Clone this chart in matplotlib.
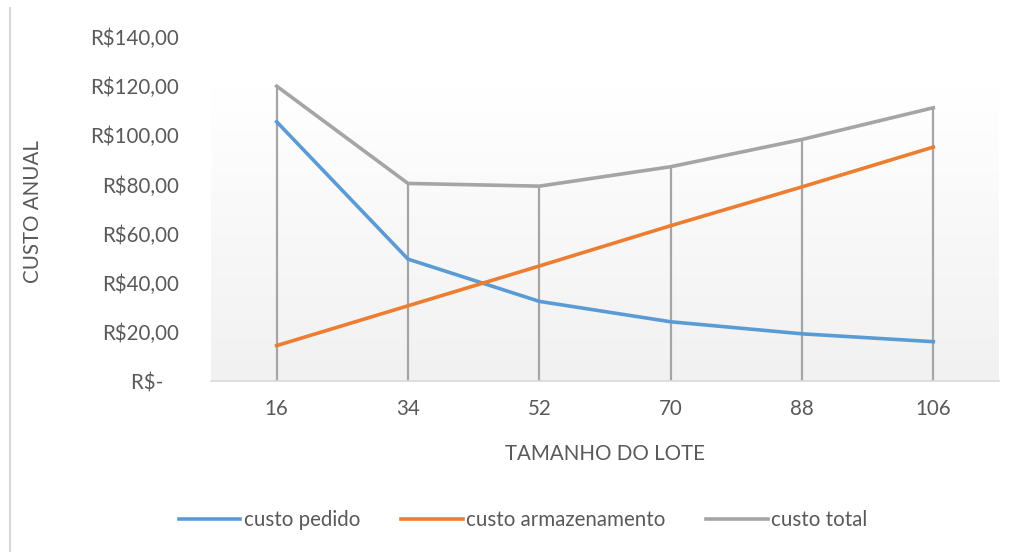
import matplotlib
matplotlib.use('Agg')
import matplotlib.pyplot as plt
import numpy as np
from matplotlib.lines import Line2D

# values
lotes = ['16', '34', '52', '70', '88', '106']
custo_pedido = [105.5, 49.6, 32.4, 24.1, 19.2, 16.0]
custo_armazenamento = [14.4, 30.6, 46.8, 63.2, 79.0, 95.2]
custo_total = [120.0, 80.4, 79.3, 87.2, 98.3, 111.2]
y_ticks = [0, 20, 40, 60, 80, 100, 120, 140]
y_labels = ['R$-   ', 'R$20,00', 'R$40,00', 'R$60,00', 'R$80,00',
            'R$100,00', 'R$120,00', 'R$140,00']

txt = '#595959'
fs = 14.8
plt.rcParams['font.family'] = ['Lato', 'DejaVu Sans']

fig = plt.figure(figsize=(10.13, 5.52), dpi=100)
ax = fig.add_axes([211/1013, 1 - 381/552, (999-211)/1013, (381-37)/552])

x = np.arange(len(lotes))
ax.set_xlim(-0.5, len(lotes) - 0.5)
ax.set_ylim(0, 140)

# background gradient (white at top, light gray at bottom)
grad = np.linspace(1.0, 0.0, 256).reshape(-1, 1)
grad = np.clip(grad / 0.85, 0, 1)
top_c = np.array([1.0, 1.0, 1.0])
bot_c = np.array([0xf1, 0xf1, 0xf1]) / 255
img = bot_c + (top_c - bot_c) * grad[..., None]
ax.imshow(img, extent=[-0.5, len(lotes) - 0.5, 0, 140], aspect='auto', zorder=0)

# drop lines
hi = np.max([custo_pedido, custo_armazenamento, custo_total], axis=0)
ax.vlines(x, 0, hi, color='#a5a5a5', lw=1.6, zorder=1)

ax.plot(x, custo_pedido, color='#5b9bd5', lw=2.6, label='custo pedido', zorder=3)
ax.plot(x, custo_armazenamento, color='#ed7d31', lw=2.6,
        label='custo armazenamento', zorder=3)
ax.plot(x, custo_total, color='#a5a5a5', lw=2.6, label='custo total', zorder=3)

for s in ['top', 'right', 'left']:
    ax.spines[s].set_visible(False)
ax.spines['bottom'].set_color('#d9d9d9')
ax.spines['bottom'].set_linewidth(1.2)

ax.set_xticks(x)
ax.set_xticklabels(lotes, fontsize=fs, color=txt)
ax.set_yticks(y_ticks)
ax.set_yticklabels(y_labels, fontsize=fs, color=txt)
ax.tick_params(length=0)
ax.tick_params(axis='x', pad=13)
ax.tick_params(axis='y', pad=23)

ax.set_xlabel('TAMANHO DO LOTE', fontsize=fs, color=txt, labelpad=18)
fig.text(33/1013, 1 - 212/552, 'CUSTO ANUAL', rotation=90, fontsize=fs,
         color=txt, ha='center', va='center')

handles = [Line2D([], [], color='#5b9bd5', lw=2.6),
           Line2D([], [], color='#ed7d31', lw=2.6),
           Line2D([], [], color='#a5a5a5', lw=2.6)]
fig.legend(handles, ['custo pedido', 'custo armazenamento', 'custo total'],
           loc='center', bbox_to_anchor=(523/1013, 1 - 520/552), ncol=3,
           frameon=False, fontsize=fs, labelcolor=txt, handlelength=3.0,
           handletextpad=0.15, columnspacing=2.0)

# left border of the chart area
fig.add_artist(Line2D([10/1013, 10/1013], [0, 1 - 8/552], color='#d9d9d9', lw=1.5))

fig.savefig('out.png', dpi=100)
